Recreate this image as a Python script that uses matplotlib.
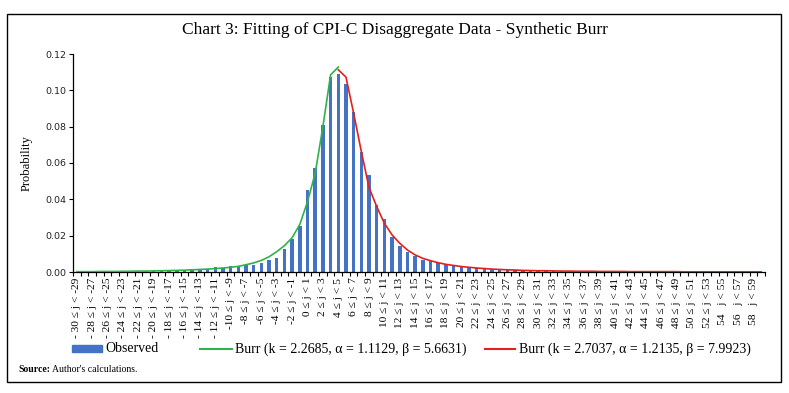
import matplotlib
matplotlib.use('Agg')
import matplotlib.pyplot as plt
from matplotlib.patches import Rectangle
from matplotlib.lines import Line2D

serif = ['Liberation Serif', 'DejaVu Serif']
plt.rcParams['font.family'] = serif

# 类别：j 从 -30 到 59，每格宽 1
j_lower = list(range(-30, 60))

# 每隔一格显示的刻度标签
tick_labels = [
    '- 30 ≤ j < -29', '- 28 ≤ j < -27', '- 26 ≤ j < -25', '- 24 ≤ j < -23',
    '- 22 ≤ j < -21', '- 20 ≤ j < -19', '- 18 ≤ j < -17', '- 16 ≤ j < -15',
    '- 14 ≤ j < -13', '- 12 ≤ j < -11', '-10 ≤ j < -9', '-8 ≤ j < -7',
    '-6 ≤ j < -5', '-4 ≤ j < -3', '-2 ≤ j < -1', '0 ≤ j < 1', '2 ≤ j < 3',
    '4 ≤ j < 5', '6 ≤ j < 7', '8 ≤ j < 9', '10 ≤ j < 11', '12 ≤ j < 13',
    '14 ≤ j < 15', '16 ≤ j < 17', '18 ≤ j < 19', '20 ≤ j < 21', '22 ≤ j < 23',
    '24 ≤ j < 25', '26 ≤ j < 27', '28 ≤ j < 29', '30 ≤ j < 31', '32 ≤ j < 33',
    '34 ≤ j < 35', '36 ≤ j < 37', '38 ≤ j < 39', '40 ≤ j < 41', '42 ≤ j < 43',
    '44 ≤ j < 45', '46 ≤ j < 47', '48 ≤ j < 49', '50 ≤ j < 51', '52 ≤ j < 53',
    '54   j < 55', '56   j < 57', '58   j < 59',
]

# 观测概率 (j = -30 ... 59)
observed = [
    0.0002, 0.0001, 0.0003, 0.0002, 0.0003, 0.0004, 0.0003, 0.0005, 0.0006, 0.0005,
    0.0008, 0.0012, 0.0009, 0.0010, 0.0012,
    0.0017, 0.0017, 0.0018, 0.0026, 0.0024, 0.0031, 0.0031, 0.0037, 0.0040, 0.0051,
    0.0064, 0.0079, 0.0127, 0.0182, 0.0253,
    0.0452, 0.0575, 0.0810, 0.1076, 0.1090, 0.1034, 0.0883, 0.0663, 0.0534, 0.0370,
    0.0292, 0.0195, 0.0143, 0.0108, 0.0086, 0.0068, 0.0059, 0.0051, 0.0044,
    0.0034, 0.0029, 0.0024, 0.0020, 0.0017, 0.0015, 0.0013, 0.0011, 0.0010, 0.0009,
    0.0008, 0.0007, 0.0006, 0.0006, 0.0005, 0.0005, 0.0004, 0.0004, 0.0003, 0.0003,
    0.0003, 0.0003, 0.0002, 0.0002, 0.0002, 0.0002, 0.0002, 0.0002,
    0.0001, 0.0001, 0.0001, 0.0001, 0.0001, 0.0001, 0.0001, 0.0001, 0.0001, 0.0001,
    0.0001, 0.0001, 0.0001,
]

# 左侧 Burr 拟合 (j = -30 ... 4)
burr_left = [
    0.0002, 0.0002, 0.0002, 0.0003, 0.0003, 0.0003, 0.0004, 0.0004, 0.0005, 0.0005,
    0.0006, 0.0007, 0.0008, 0.0009, 0.0010, 0.0012, 0.0014, 0.0016, 0.0019, 0.0022,
    0.0026, 0.0031, 0.0040,
    0.0050, 0.0064, 0.0084, 0.0112, 0.0145, 0.0189, 0.0262, 0.0387, 0.0544, 0.0800,
    0.1085, 0.1128,
]

# 右侧 Burr 拟合 (j = 4 ... 59)
burr_right = [
    0.1113, 0.1073, 0.0874, 0.0663, 0.0465, 0.0360, 0.0268, 0.0204, 0.0158, 0.0121,
    0.0094, 0.0075, 0.0062, 0.0051, 0.0042,
    0.0036, 0.0030, 0.0026, 0.0022, 0.0019, 0.0016, 0.0014, 0.0012, 0.0011, 0.0009,
    0.0008, 0.0007, 0.0007, 0.0006, 0.0005, 0.0005, 0.0004, 0.0004, 0.0004, 0.0003,
    0.0003, 0.0003, 0.0003, 0.0002, 0.0002, 0.0002, 0.0002, 0.0002, 0.0002, 0.0002,
    0.0001, 0.0001, 0.0001, 0.0001, 0.0001, 0.0001, 0.0001, 0.0001, 0.0001, 0.0001,
    0.0001,
]

label_obs = 'Observed'
label_left = 'Burr (k = 2.2685, α = 1.1129, β = 5.6631)'
label_right = 'Burr (k = 2.7037, α = 1.2135, β = 7.9923)'

blue = '#4472C4'
green = '#2DB34A'
red = '#E2211C'

W, H = 789, 393
fig = plt.figure(figsize=(W / 100, H / 100), dpi=100)
ax = fig.add_axes([73 / W, 1 - 272 / H, (765 - 73) / W, (272 - 54) / H])

x_all = list(range(len(j_lower)))
ax.bar(x_all, observed, width=0.45, color=blue, zorder=2)

x_left = x_all[:len(burr_left)]
x_right = x_all[len(burr_left) - 1:]
ax.plot(x_left, burr_left, color=green, lw=1.2, zorder=3)
ax.plot(x_right, burr_right, color=red, lw=1.2, zorder=3)

ax.set_xlim(-0.5, len(j_lower) - 0.5)
ax.set_ylim(0, 0.12)
ax.set_yticks([0, 0.02, 0.04, 0.06, 0.08, 0.10, 0.12])
ax.set_yticklabels(['0.00', '0.02', '0.04', '0.06', '0.08', '0.10', '0.12'],
                   family='DejaVu Sans', fontsize=6.8, color='#222222')
ax.tick_params(axis='y', length=3, width=0.8, pad=2)

ax.set_xticks(x_all[::2])
ax.set_xticklabels(tick_labels, rotation=90, fontsize=8.2, ha='center', va='top')
ax.set_xticks([i - 0.5 for i in range(len(j_lower) + 1)], minor=True)
ax.tick_params(axis='x', which='major', length=0, pad=4)
ax.tick_params(axis='x', which='minor', length=3, width=0.8)

for s in ['top', 'right']:
    ax.spines[s].set_visible(False)
for s in ['left', 'bottom']:
    ax.spines[s].set_linewidth(0.9)

ax.set_ylabel('Probability', fontsize=9, labelpad=9)

fig.text(0.5, 1 - 30 / H, 'Chart 3: Fitting of CPI-C Disaggregate Data - Synthetic Burr',
         ha='center', va='center', fontsize=12.5)

# 图例（手动放置）
ly = 1 - 349 / H
fig.patches.append(Rectangle((72 / W, 1 - 352 / H), 30 / W, 7 / H,
                             transform=fig.transFigure, color=blue))
fig.text(105 / W, ly, label_obs, fontsize=10, va='center')
fig.lines.append(Line2D([200 / W, 232 / W], [ly, ly], transform=fig.transFigure,
                        color=green, lw=1.5))
fig.text(235 / W, ly, label_left, fontsize=10, va='center')
fig.lines.append(Line2D([485 / W, 515 / W], [ly, ly], transform=fig.transFigure,
                        color=red, lw=1.5))
fig.text(519 / W, ly, label_right, fontsize=10, va='center')

fig.text(18 / W, 1 - 369 / H, 'Source:', fontsize=7, fontweight='bold', va='center')
fig.text(52 / W, 1 - 369 / H, "Author's calculations.", fontsize=7, va='center')

fig.patches.append(Rectangle((7 / W, 1 - 382 / H), (781 - 7) / W, (382 - 14) / H,
                             transform=fig.transFigure, fill=False, lw=1, ec='black'))

fig.savefig('out.png', dpi=100)
